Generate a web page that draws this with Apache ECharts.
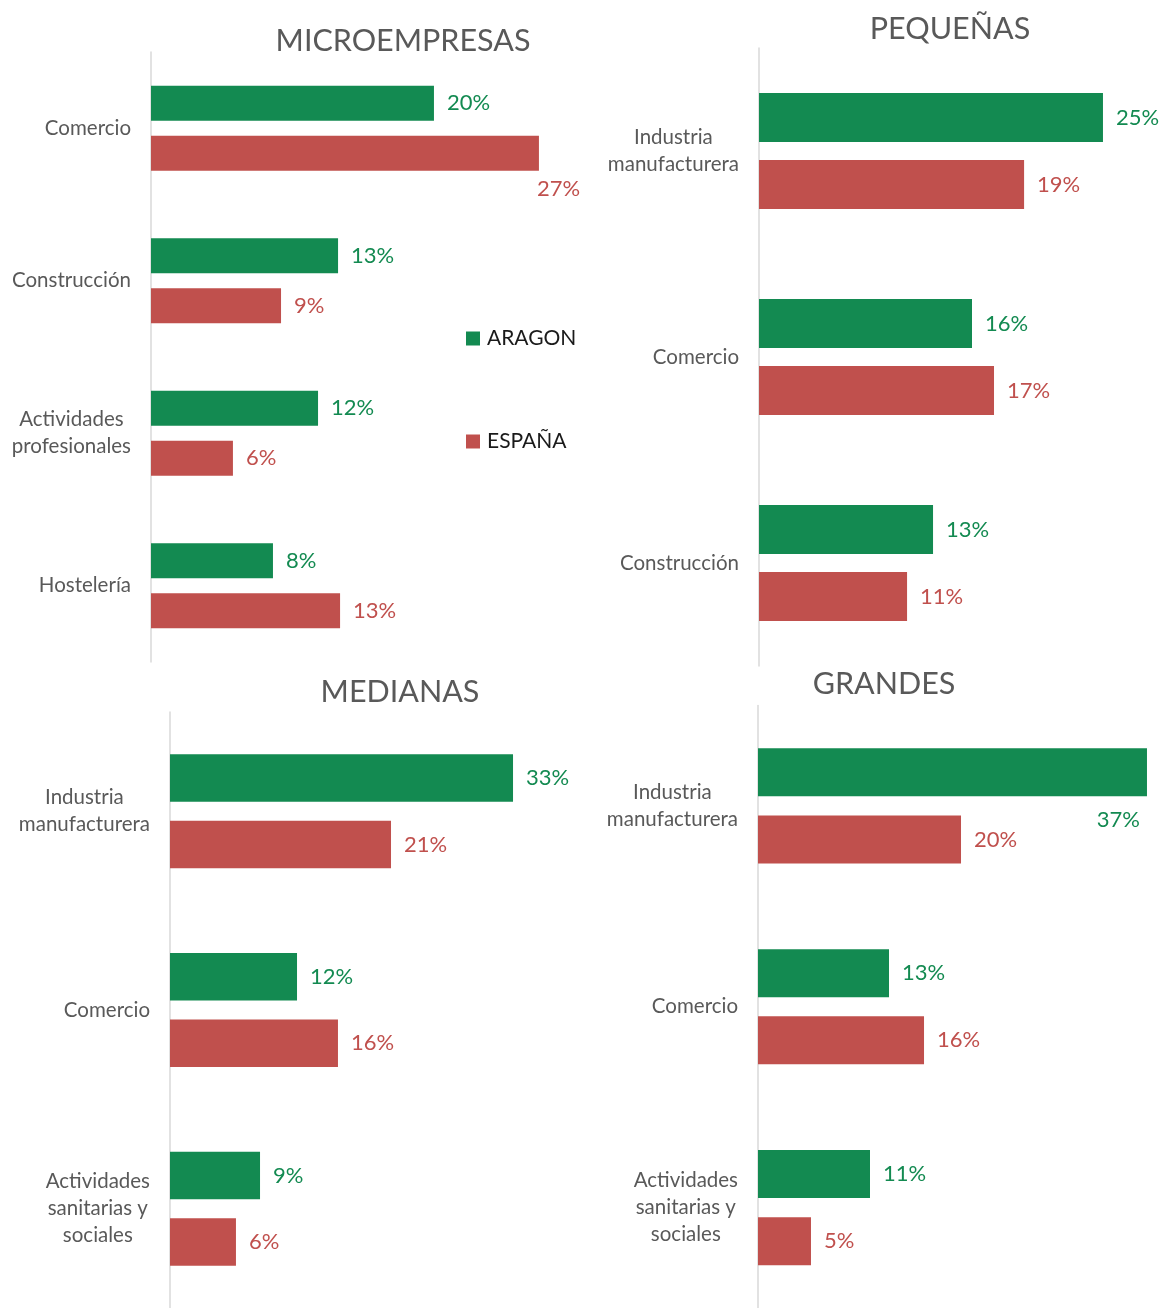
<!DOCTYPE html>
<html>
<head>
<meta charset="utf-8">
<script src="https://cdn.jsdelivr.net/npm/echarts@6/dist/echarts.min.js"></script>
<style>html,body{margin:0;padding:0;background:#fff}#c{width:1165px;height:1308px}</style>
</head>
<body>
<div id="c"></div>
<script>
// ---- data ----
var seriesNames = ['ARAGON', 'ESPAÑA'];
var titles = ['MICROEMPRESAS', 'PEQUEÑAS', 'MEDIANAS', 'GRANDES'];

var microCats = ['Comercio', 'Construcción', 'Actividades\nprofesionales', 'Hostelería'];
var microAragon = [19.65, 12.99, 11.6, 8.47];
var microEspana = [26.94, 9.03, 5.69, 13.13];

var pequenasCats = ['Industria\nmanufacturera', 'Comercio', 'Construcción'];
var pequenasAragon = [25.16, 15.58, 12.73];
var pequenasEspana = [19.39, 17.19, 10.83];

var medianasCats = ['Industria\nmanufacturera', 'Comercio', 'Actividades\nsanitarias y\nsociales'];
var medianasAragon = [32.92, 12.19, 8.64];
var medianasEspana = [21.21, 16.12, 6.33];

var grandesCats = ['Industria\nmanufacturera', 'Comercio', 'Actividades\nsanitarias y\nsociales'];
var grandesAragon = [37.44, 12.61, 10.78];
var grandesEspana = [19.54, 15.98, 5.10];

// ---- styling / layout ----
var GREEN = '#138A51', RED = '#C0504D';
var FONT = 'Lato';
var panels = [
  {cats: microCats, a: microAragon, e: microEspana, left: 151, top: 52, height: 610, width: 432, max: 30, bw: 35, gap: '43%', title: [403, 41], special: {s: 1, i: 0, kind: 'below-left'}},
  {cats: pequenasCats, a: pequenasAragon, e: pequenasEspana, left: 759, top: 48, height: 618, width: 382.8, max: 28, bw: 49, gap: '37%', title: [950, 29]},
  {cats: medianasCats, a: medianasAragon, e: medianasEspana, left: 170, top: 712, height: 606, width: 416.8, max: 40, bw: 47.5, gap: '40%', title: [400, 692]},
  {cats: grandesCats, a: grandesAragon, e: grandesEspana, left: 758, top: 705.5, height: 606, width: 394.8, max: 38, bw: 48, gap: '40%', title: [884, 684], special: {s: 0, i: 0, kind: 'below-right'}}
];

function catFormatter(v) {
  return v.split('\n').map(function (l) { return '{c|' + l + '}'; }).join('\n');
}
function pct(p) { return Math.round(p.value) + '%'; }

var grid = [], xAxis = [], yAxis = [], series = [], title = [];
panels.forEach(function (p, k) {
  grid.push({left: p.left, top: p.top, width: p.width, height: p.height, containLabel: false});
  xAxis.push({type: 'value', gridIndex: k, min: 0, max: p.max, show: false});
  yAxis.push({
    type: 'category', gridIndex: k, data: p.cats, inverse: true,
    axisLine: {show: true, lineStyle: {color: '#D9D9D9', width: 1.5}},
    axisTick: {show: false},
    axisLabel: {
      margin: 20, formatter: catFormatter,
      rich: {c: {align: 'center', fontFamily: FONT, fontSize: 20.5, color: '#595959', lineHeight: 27}}
    }
  });
  title.push({
    text: titles[k], left: p.title[0], top: p.title[1] - 20, textAlign: 'center', padding: 0,
    textStyle: {fontFamily: FONT, fontSize: 30.5, fontWeight: 'normal', color: '#595959', lineHeight: 40}
  });
  [p.a, p.e].forEach(function (vals, s) {
    var col = s === 0 ? GREEN : RED;
    var data = vals.map(function (v, i) {
      var d = {value: v};
      if (p.special && p.special.s === s && p.special.i === i) {
        if (p.special.kind === 'below-left') {
          d.label = {position: ['100%', '100%'], align: 'left', verticalAlign: 'top', offset: [-2, 2]};
        } else {
          d.label = {position: ['100%', '100%'], align: 'right', verticalAlign: 'top', offset: [-7, 8]};
        }
      }
      return d;
    });
    series.push({
      type: 'bar', name: seriesNames[s], xAxisIndex: k, yAxisIndex: k,
      barWidth: p.bw, barGap: p.gap, data: data,
      itemStyle: {color: col},
      label: {show: true, position: 'right', distance: 13, formatter: pct,
        fontFamily: FONT, fontSize: 22, color: col, padding: [5, 0, 0, 0]},
      emphasis: {disabled: true},
      animation: false
    });
  });
});

var chart = echarts.init(document.getElementById('c'), null, {renderer: 'canvas'});
chart.setOption({
  backgroundColor: '#fff',
  animation: false,
  title: title,
  legend: {
    data: seriesNames, orient: 'vertical', left: 466, top: 328, itemGap: 82,
    itemWidth: 14, itemHeight: 14, icon: 'rect', padding: 0,
    textStyle: {fontFamily: FONT, fontSize: 21, color: '#1a1a1a', padding: [0, 0, 0, 2]}
  },
  grid: grid, xAxis: xAxis, yAxis: yAxis, series: series
});
</script>
</body>
</html>
